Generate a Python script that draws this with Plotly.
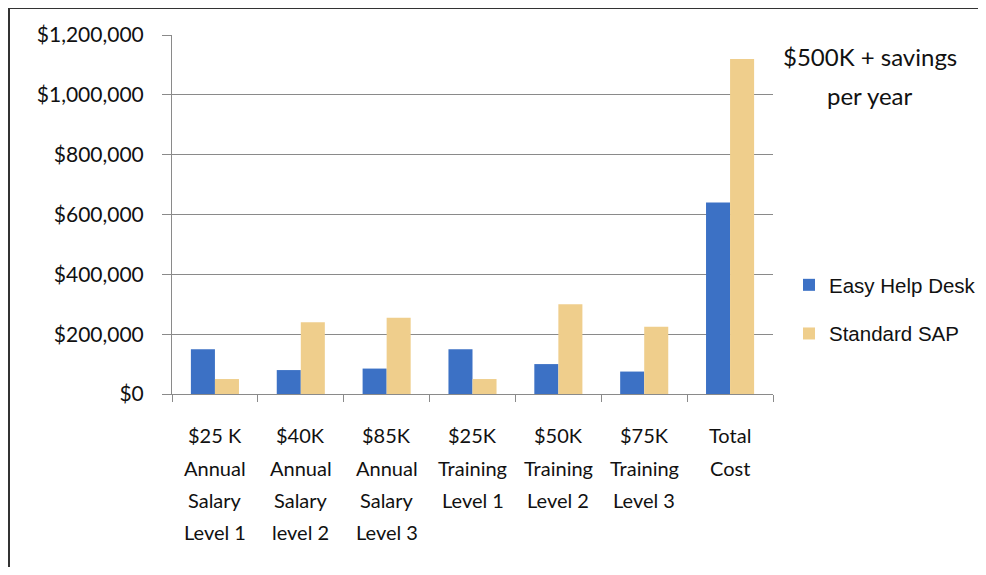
import plotly.graph_objects as go

# ---- data ----
category_lines = [
    ["$25 K", "Annual", "Salary", "Level 1"],
    ["$40K", "Annual", "Salary", "level 2"],
    ["$85K", "Annual", "Salary", "Level 3"],
    ["$25K", "Training", "Level 1"],
    ["$50K", "Training", "Level 2"],
    ["$75K", "Training", "Level 3"],
    ["Total", "Cost"],
]
categories = [" ".join(c) for c in category_lines]
easy_help_desk = [150000, 80000, 85000, 150000, 100000, 75000, 640000]
standard_sap = [50000, 240000, 255000, 50000, 300000, 225000, 1120000]
y_tickvals = [0, 200000, 400000, 600000, 800000, 1000000, 1200000]
y_ticktext = ["$0", "$200,000", "$400,000", "$600,000", "$800,000", "$1,000,000", "$1,200,000"]
note_lines = ["$500K + savings", "per year"]

# ---- layout constants (page pixels; the page body adds an 8px offset) ----
OFF = 8
W, H = 986 - OFF, 575 - 2 * OFF
PLOT_L, PLOT_R, PLOT_T, PLOT_B = 172, 773, 35, 394
L, T = PLOT_L - OFF, PLOT_T - OFF
R, B = W - (PLOT_R - OFF), H - (PLOT_B - OFF)
PW, PH = PLOT_R - PLOT_L, PLOT_B - PLOT_T
def px(x):
    return (x - PLOT_L) / PW
def py(y):
    return (PLOT_B - y) / PH

LABEL_FONT = "Lato, 'Open Sans', sans-serif"
BLUE = "#3C71C5"
GOLD = "#EFCE8C"
GRID = "#8a8a8a"

fig = go.Figure()
fig.add_trace(go.Bar(x=categories, y=easy_help_desk, name="Easy Help Desk",
                     marker=dict(color=BLUE, line=dict(width=0)), legendgroup="a"))
fig.add_trace(go.Bar(x=categories, y=standard_sap, name="Standard SAP",
                     marker=dict(color=GOLD, line=dict(width=0)), legendgroup="b"))

annotations = []
line_ys = [435, 468, 500, 532]
for cat, lines in zip(categories, category_lines):
    for i, t in enumerate(lines):
        annotations.append(dict(x=cat, xref="x", y=py(line_ys[i]), yref="paper",
                                text=t, showarrow=False, xanchor="center", yanchor="middle",
                                font=dict(family=LABEL_FONT, size=20, color="#111")))
note_ys = [57, 95]
for i, t in enumerate(note_lines):
    annotations.append(dict(x=px(870), xref="paper", y=py(note_ys[i]), yref="paper",
                            text=t, showarrow=False, xanchor="center", yanchor="middle",
                            font=dict(family=LABEL_FONT, size=24, color="#111")))

shapes = [
    dict(type="line", xref="paper", yref="paper", x0=px(9), x1=px(9), y0=py(7), y1=py(575),
         line=dict(color="#333", width=2)),
    dict(type="line", xref="paper", yref="paper", x0=px(8), x1=px(990), y0=py(8), y1=py(8),
         line=dict(color="#333", width=2)),
]

fig.update_layout(
    width=W, height=H,
    margin=dict(l=L, r=R, t=T, b=B, autoexpand=False),
    paper_bgcolor="white", plot_bgcolor="white",
    barmode="group", bargap=0.44, bargroupgap=0,
    showlegend=True,
    legend=dict(x=px(789), y=py(265), xanchor="left", yanchor="top",
                font=dict(family="'Liberation Sans', Arial, sans-serif", size=20.5, color="#111"),
                traceorder="grouped", tracegroupgap=19, bgcolor="rgba(0,0,0,0)"),
    annotations=annotations,
    shapes=shapes,
    xaxis=dict(type="category", showticklabels=False, ticks="outside", ticklen=7,
               tickcolor=GRID, tickson="boundaries", showline=True, linecolor=GRID,
               linewidth=1, showgrid=False),
    yaxis=dict(range=[0, 1200000], tickvals=y_tickvals, ticktext=y_ticktext,
               showgrid=True, gridcolor=GRID, gridwidth=1, showline=True, linecolor=GRID,
               ticks="outside", ticklen=9, tickcolor=GRID, zeroline=False,
               ticklabelstandoff=14,
               tickfont=dict(family=LABEL_FONT, size=21, color="#111")),
)

fig.write_html("out.html")
